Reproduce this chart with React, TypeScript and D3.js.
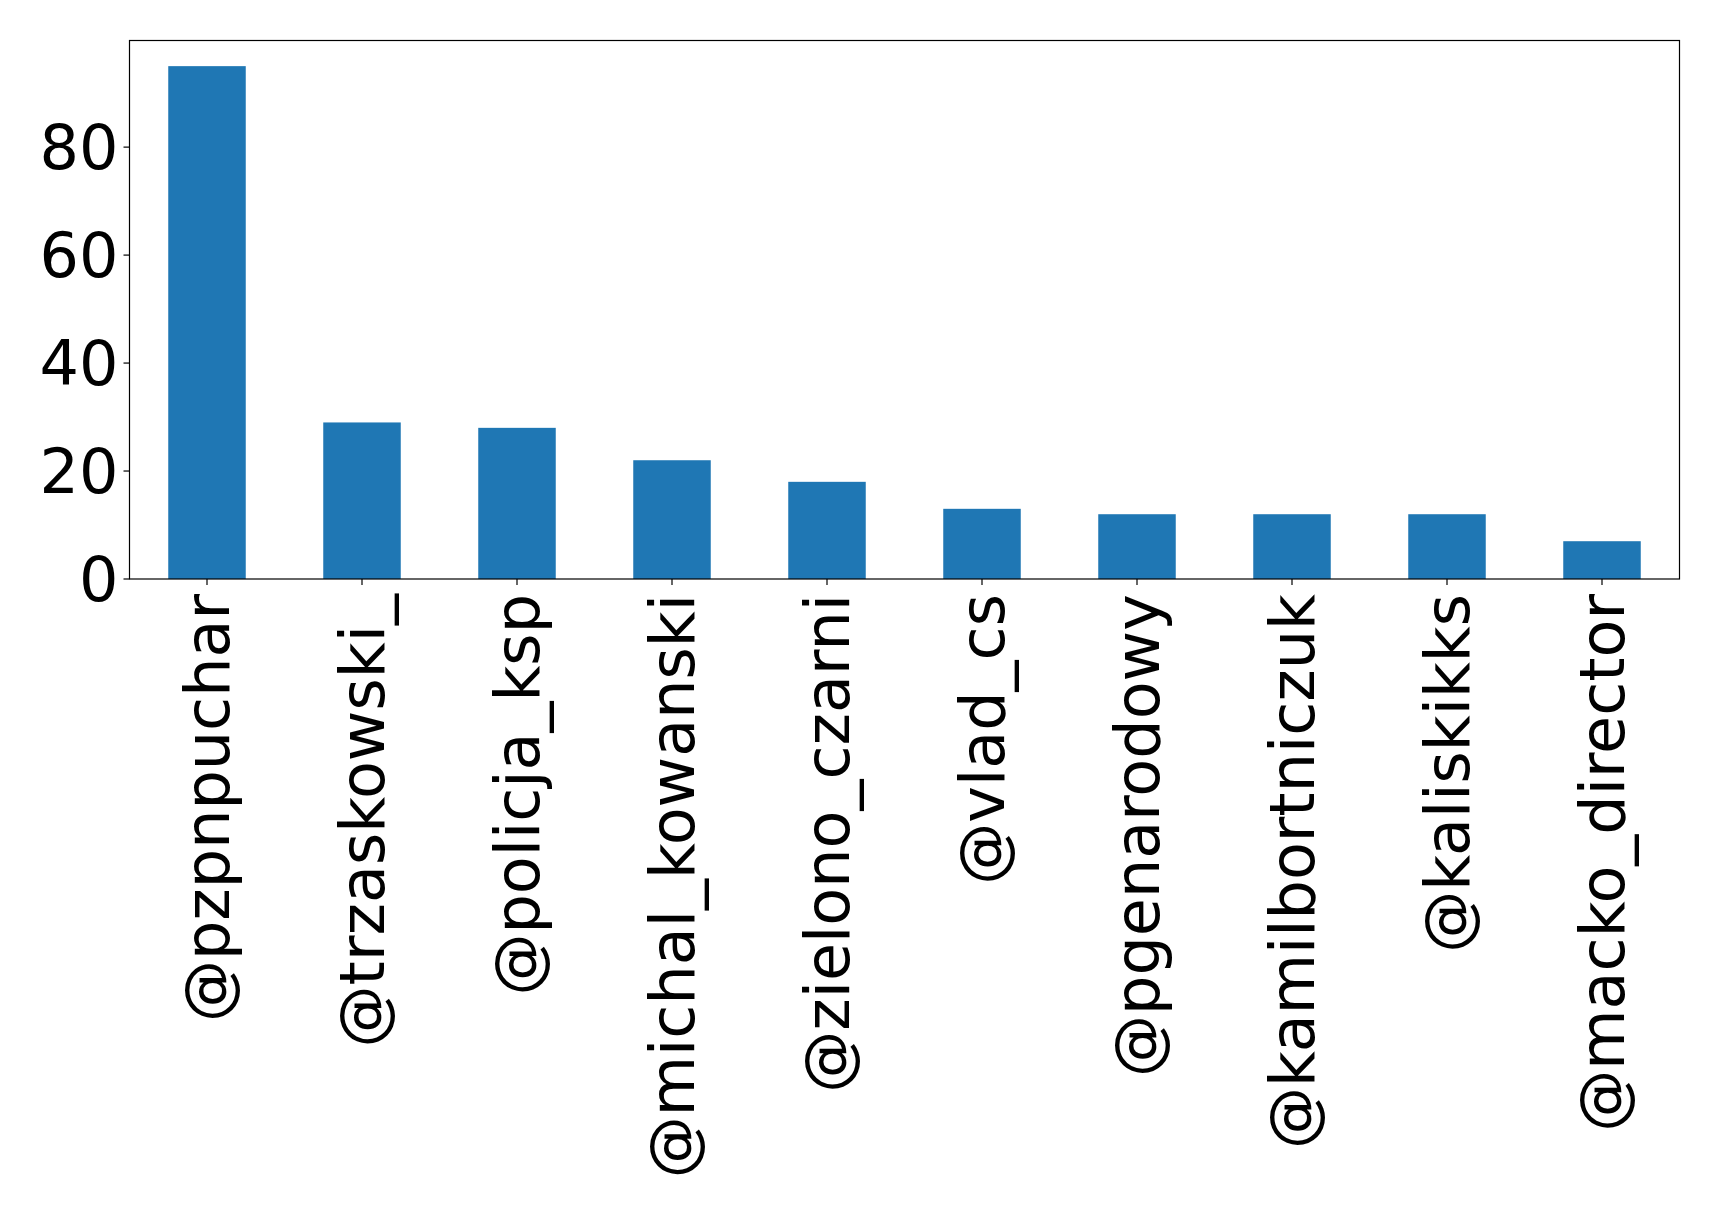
import React, { useEffect, useRef } from "react";
import * as d3 from "d3";

const categories = [
  "@pzpnpuchar",
  "@trzaskowski_",
  "@policja_ksp",
  "@michal_kowanski",
  "@zielono_czarni",
  "@vlad_cs",
  "@pgenarodowy",
  "@kamilbortniczuk",
  "@kaliskikks",
  "@macko_director",
];
const values = [95, 29, 28, 22, 18, 13, 12, 12, 12, 7];
const yTicks = [0, 20, 40, 60, 80];

const W = 1719;
const H = 1217;
const M = { left: 129.5, top: 40.5, right: 1679.5, bottom: 579 };
const FONT = "DejaVu Sans, sans-serif";
const FS = 62;

export default function App() {
  const ref = useRef<SVGSVGElement>(null);
  useEffect(() => {
    const svg = d3.select(ref.current);
    svg.selectAll("*").remove();
    const n = categories.length;
    const x = d3.scaleLinear().domain([-0.5, n - 0.5]).range([M.left, M.right]);
    const ymax = d3.max(values)! * 1.05;
    const y = d3.scaleLinear().domain([0, ymax]).range([M.bottom, M.top]);

    svg.append("rect").attr("width", W).attr("height", H).attr("fill", "white");

    svg
      .append("g")
      .selectAll("rect")
      .data(values)
      .join("rect")
      .attr("x", (_, i) => x(i - 0.25))
      .attr("width", (_, i) => x(i + 0.25) - x(i - 0.25))
      .attr("y", (d) => y(d))
      .attr("height", (d) => y(0) - y(d))
      .attr("fill", "#1f77b4");

    svg
      .append("rect")
      .attr("x", M.left)
      .attr("y", M.top)
      .attr("width", M.right - M.left)
      .attr("height", M.bottom - M.top)
      .attr("fill", "none")
      .attr("stroke", "black")
      .attr("stroke-width", 1.2);

    const yg = svg.append("g");
    yTicks.forEach((t) => {
      yg.append("line")
        .attr("x1", M.left - 6)
        .attr("x2", M.left)
        .attr("y1", y(t))
        .attr("y2", y(t))
        .attr("stroke", "black")
        .attr("stroke-width", 1.2);
      yg.append("text")
        .attr("x", M.left - 11)
        .attr("y", y(t))
        .attr("dy", "0.36em")
        .attr("text-anchor", "end")
        .attr("font-family", FONT)
        .attr("font-size", FS)
        .attr("fill", "black")
        .text(String(t));
    });

    const xg = svg.append("g");
    categories.forEach((c, i) => {
      xg.append("line")
        .attr("x1", x(i))
        .attr("x2", x(i))
        .attr("y1", M.bottom)
        .attr("y2", M.bottom + 6)
        .attr("stroke", "black")
        .attr("stroke-width", 1.2);
      xg.append("text")
        .attr("transform", `translate(${x(i)},${M.bottom + 15}) rotate(-90)`)
        .attr("dy", "0.35em")
        .attr("text-anchor", "end")
        .attr("font-family", FONT)
        .attr("font-size", FS)
        .attr("fill", "black")
        .text(c);
    });
  }, []);

  return (
    <svg
      ref={ref}
      width={W}
      height={H}
      style={{ position: "absolute", left: 0, top: 0, display: "block" }}
    />
  );
}
